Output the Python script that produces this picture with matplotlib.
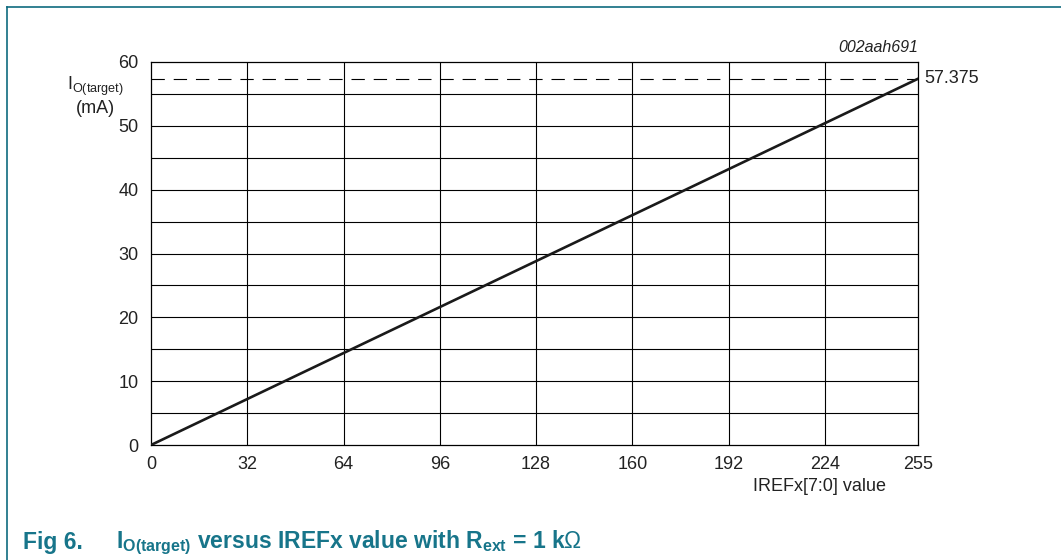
import matplotlib
matplotlib.use("Agg")
import matplotlib.pyplot as plt
from matplotlib.lines import Line2D

plt.rcParams['font.family'] = ['Liberation Sans', 'DejaVu Sans']
plt.rcParams['mathtext.fontset'] = 'custom'
plt.rcParams['mathtext.rm'] = 'Liberation Sans'
plt.rcParams['mathtext.bf'] = 'Liberation Sans:bold'

# data
iref_values = [0, 255]
io_target_ma = [0, 57.375]
x_ticks = [0, 32, 64, 96, 128, 160, 192, 224, 255]
y_ticks = [0, 10, 20, 30, 40, 50, 60]
y_grid = [5, 10, 15, 20, 25, 30, 35, 40, 45, 50, 55]
max_label = "57.375"
teal = '#17758a'

fig = plt.figure(figsize=(10.61, 5.60), dpi=100)
ax = fig.add_axes([151 / 1061, 1 - 445 / 560, 767 / 1061, 383 / 560])

ax.set_xlim(0, 255)
ax.set_ylim(0, 60)

# grid lines
for x in x_ticks[1:-1]:
    ax.axvline(x, color='black', linewidth=0.8, zorder=1)
for y in y_grid:
    ax.axhline(y, color='black', linewidth=0.8, zorder=1)
ax.axhline(io_target_ma[-1], color='black', linewidth=0.8, linestyle=(0, (12, 8)), zorder=1)

ax.plot(iref_values, io_target_ma, color='#1a1a1a', linewidth=1.9, zorder=3)

ax.set_xticks(x_ticks)
ax.set_yticks(y_ticks)
ax.tick_params(length=0, labelsize=13, colors='#222222')
ax.tick_params(axis='x', pad=8)
ax.tick_params(axis='y', pad=9)
for s in ax.spines.values():
    s.set_linewidth(0.9)

ax.text(-0.072, 0.935, r'I$_{\mathregular{O(target)}}$', transform=ax.transAxes,
        ha='center', va='center', fontsize=13, color='#222222')
ax.text(-0.072, 0.878, '(mA)', transform=ax.transAxes,
        ha='center', va='center', fontsize=13, color='#222222')
ax.text(1.0, 1.018, '002aah691', transform=ax.transAxes, ha='right', va='bottom',
        fontsize=11.5, style='italic', color='#222222')
ax.text(1.008, io_target_ma[-1], max_label, transform=ax.get_yaxis_transform(),
        ha='left', va='center', fontsize=13, color='#222222')
ax.text(0.872, -0.085, 'IREFx[7:0] value', transform=ax.transAxes, ha='center', va='top',
        fontsize=13, color='#222222')

# frame around the figure (top and left)
fig.add_artist(Line2D([7 / 1061, 7 / 1061], [0, 1 - 7 / 560], color='#0e6b7f', linewidth=1.2))
fig.add_artist(Line2D([7 / 1061, 1], [1 - 7 / 560, 1 - 7 / 560], color='#0e6b7f', linewidth=1.2))

# caption
fig.text(23 / 1061, 1 - 543 / 560, 'Fig 6.', ha='left', va='center', fontsize=16.5,
         fontweight='bold', color=teal)
fig.text(116 / 1061, 1 - 543 / 560,
         r'I$_{\mathbf{O(target)}}$ versus IREFx value with R$_{\mathbf{ext}}$ = 1 k$\Omega$',
         ha='left', va='center', fontsize=16.5, fontweight='bold', color=teal)

fig.savefig('out.png', dpi=100, facecolor='white')
